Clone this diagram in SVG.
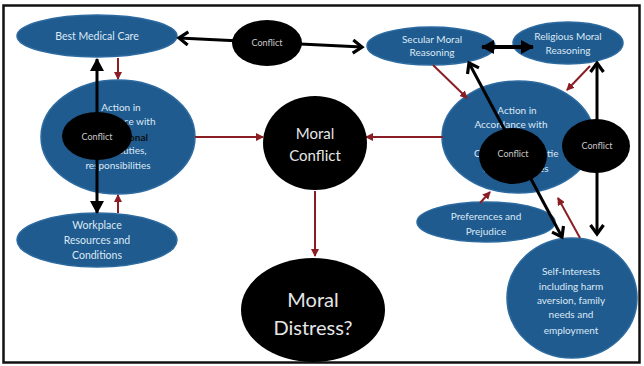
<svg xmlns="http://www.w3.org/2000/svg" width="644" height="366" viewBox="0 0 644 366">
  <style>
    .blue { fill: #1f5b8f; stroke: #2c6aa0; stroke-width: 1.5; }
    .dark { fill: #000; }
    .lt { font-family: Lato, "Open Sans", "Liberation Sans", sans-serif; fill: #dce9f5; text-anchor: middle; font-size: 10px; }
    .lg { font-size: 10.5px; }
    .cf { font-family: Lato, "Open Sans", "Liberation Sans", sans-serif; fill: #c8c8c8; text-anchor: middle; font-size: 9px; }
    .big { font-family: Lato, "Open Sans", "Liberation Sans", sans-serif; fill: #e6e6e6; text-anchor: middle; }
    .red { stroke: #8b1e24; stroke-width: 2; fill: none; marker-end: url(#redHead); }
    .blk { stroke: #000; stroke-width: 3; fill: none; }
    .chev { marker-start: url(#chev); marker-end: url(#chev); }
    .tri { marker-start: url(#tri); marker-end: url(#tri); }
  </style>
  <defs>
    <marker id="redHead" markerUnits="userSpaceOnUse" markerWidth="8" markerHeight="8" refX="7" refY="4" orient="auto">
      <path d="M0,0 L8,4 L0,8 Z" fill="#8b1e24"/>
    </marker>
    <marker id="chev" markerUnits="userSpaceOnUse" markerWidth="14" markerHeight="16" refX="11" refY="8" orient="auto-start-reverse">
      <path d="M2,1.5 L11,8 L2,14.5" fill="none" stroke="#000" stroke-width="3.2"/>
    </marker>
    <marker id="tri" markerUnits="userSpaceOnUse" markerWidth="14" markerHeight="14" refX="12" refY="7" orient="auto-start-reverse">
      <path d="M0,0 L13,7 L0,14 Z" fill="#000"/>
    </marker>
  </defs>

  <rect width="644" height="366" fill="#fff"/>
  <!-- outer frame -->
  <rect x="3.5" y="5.5" width="636" height="357" fill="none" stroke="#111" stroke-width="2.5"/>

  <!-- blue nodes -->
  <g id="best-medical-care">
    <ellipse class="blue" cx="97" cy="36" rx="80" ry="21"/>
    <text class="lt lg" x="97" y="40">Best Medical Care</text>
  </g>
  <g id="professional-action">
    <ellipse class="blue" cx="118" cy="137" rx="77" ry="57"/>
    <text class="lt" x="121" y="111">Action in</text>
    <text class="lt" x="119" y="125">Accordance with</text>
    <text class="lt" x="148" y="141" style="fill:#0b0f14;font-weight:bold;text-anchor:end">onal</text>
    <text class="lt" x="119" y="154">roles, duties,</text>
    <text class="lt" x="118" y="169">responsibilities</text>
  </g>
  <g id="workplace">
    <ellipse class="blue" cx="97" cy="240" rx="80" ry="27"/>
    <text class="lt lg" x="97" y="229">Workplace</text>
    <text class="lt lg" x="97" y="244">Resources and</text>
    <text class="lt lg" x="97" y="259">Conditions</text>
  </g>
  <g id="secular">
    <ellipse class="blue" cx="431" cy="46" rx="64" ry="19"/>
    <text class="lt" x="432" y="43">Secular Moral</text>
    <text class="lt" x="432" y="56">Reasoning</text>
  </g>
  <g id="religious">
    <ellipse class="blue" cx="568" cy="43" rx="55" ry="21"/>
    <text class="lt" x="568" y="40">Religious Moral</text>
    <text class="lt" x="568" y="54">Reasoning</text>
  </g>
  <g id="personal-action">
    <ellipse class="blue" cx="518" cy="137" rx="76" ry="56"/>
    <text class="lt" x="517" y="114">Action in</text>
    <text class="lt" x="511" y="128">Accordance with</text>
    <text class="lt" x="474" y="157" style="text-anchor:start">C</text>
    <text class="lt" x="547" y="157" style="text-anchor:start">tie</text>
    <text class="lt" x="516" y="172">responsibilities</text>
  </g>
  <g id="preferences">
    <ellipse class="blue" cx="486" cy="222" rx="69" ry="20"/>
    <text class="lt" x="486" y="220">Preferences and</text>
    <text class="lt" x="486" y="235">Prejudice</text>
  </g>
  <g id="self-interests">
    <ellipse class="blue" cx="572" cy="298" rx="65" ry="60"/>
    <text class="lt" x="571" y="275">Self-Interests</text>
    <text class="lt" x="571" y="290">including harm</text>
    <text class="lt" x="571" y="304">aversion, family</text>
    <text class="lt" x="571" y="318">needs and</text>
    <text class="lt" x="571" y="334">employment</text>
  </g>

  <!-- connectors -->
  <g id="connectors">
    <!-- influence arrows -->
    <line class="red" x1="118" y1="58" x2="118" y2="79"/>
    <line class="red" x1="118" y1="213" x2="118" y2="195"/>
    <line class="red" x1="195" y1="137" x2="263" y2="137"/>
    <line class="red" x1="443" y1="137" x2="366" y2="137"/>
    <line class="red" x1="315" y1="191" x2="315" y2="256"/>
    <line class="red" x1="433" y1="65" x2="467" y2="98"/>
    <line class="red" x1="590" y1="66" x2="567" y2="90"/>
    <line class="red" x1="480" y1="203" x2="490" y2="192"/>
    <line class="red" x1="580" y1="238" x2="558" y2="198"/>
    <!-- conflict arrows -->
    <line class="blk chev" x1="179" y1="38" x2="362" y2="47"/>
    <line class="blk tri" x1="97" y1="59" x2="97" y2="213"/>
    <line class="blk tri" x1="482" y1="47" x2="533" y2="47" style="stroke-width:4"/>
    <line class="blk chev" x1="469" y1="63" x2="562" y2="237"/>
    <line class="blk chev" x1="597" y1="63" x2="597" y2="234"/>
  </g>

  <!-- conflict markers -->
  <g id="conflict-top">
    <ellipse class="dark" cx="267" cy="43" rx="35" ry="23"/>
    <text class="cf" x="267" y="46">Conflict</text>
  </g>
  <g id="conflict-left">
    <ellipse class="dark" cx="97" cy="136" rx="35" ry="24"/>
    <text class="cf" x="97" y="140">Conflict</text>
  </g>
  <g id="conflict-center-right">
    <ellipse class="dark" cx="513" cy="156" rx="34" ry="28"/>
    <text class="cf" x="513" y="157">Conflict</text>
  </g>
  <g id="conflict-right">
    <ellipse class="dark" cx="596" cy="146" rx="34" ry="27"/>
    <text class="cf" x="597" y="149">Conflict</text>
  </g>

  <!-- outcome nodes -->
  <g id="moral-conflict">
    <ellipse class="dark" cx="315" cy="143" rx="52" ry="47"/>
    <text class="big" x="315" y="139" font-size="15">Moral</text>
    <text class="big" x="315" y="161" font-size="15">Conflict</text>
  </g>
  <g id="moral-distress">
    <ellipse class="dark" cx="313" cy="310" rx="72" ry="52"/>
    <text class="big" x="313" y="307" font-size="20">Moral</text>
    <text class="big" x="313" y="335" font-size="20">Distress?</text>
  </g>
</svg>
